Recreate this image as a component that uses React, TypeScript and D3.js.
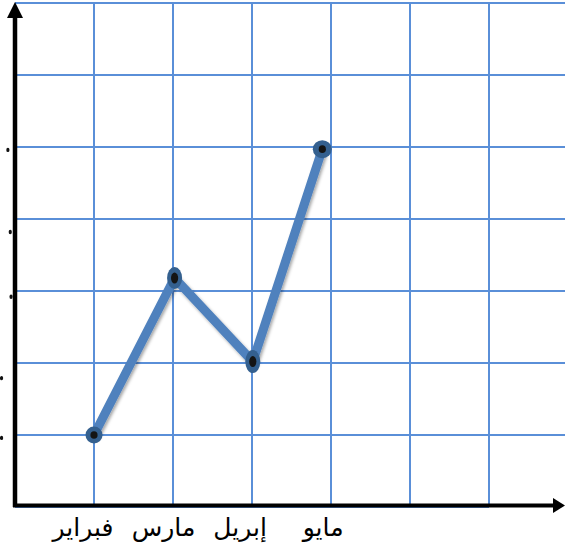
import { useEffect, useRef } from "react";
import * as d3 from "d3";

const months = ["فبراير", "مارس", "إبريل", "مايو"];
const monthPos = [1, 2.02, 3.01, 3.89];
const labelPos = [0.86, 1.88, 2.85, 3.9];
const values = [1, 3.18, 2.02, 4.97];
const gridSteps = [1, 2, 3, 4, 5, 6, 7];
// remnants of clipped tick labels at the far left
const clippedTicks = [4.96, 3.82, 2.92, 1.79, 0.96];
const clippedTickX = [-0.09, -0.06, -0.05, -0.17, -0.17];

type Pt = { label: string; x: number; y: number; lx: number };

export default function App() {
  const ref = useRef<SVGSVGElement | null>(null);

  useEffect(() => {
    const node = ref.current;
    if (!node) return;
    const svg = d3.select(node);
    svg.selectAll("*").remove();

    const width = 565;
    const blue = "#4f81bd";
    const grid = "#5a8fd8";

    const x = d3.scaleLinear().domain([0, 7]).range([15, 568]);
    const y = d3.scaleLinear().domain([0, 7]).range([507, 3]);

    const pts: Pt[] = months.map((label, i) => ({
      label,
      x: monthPos[i],
      y: values[i],
      lx: labelPos[i],
    }));

    const defs = svg.append("defs");
    defs
      .append("filter")
      .attr("id", "shadow")
      .attr("x", "-10%")
      .attr("y", "-10%")
      .attr("width", "130%")
      .attr("height", "130%")
      .append("feDropShadow")
      .attr("dx", 1.5)
      .attr("dy", 2)
      .attr("stdDeviation", 1.5)
      .attr("flood-color", "#000")
      .attr("flood-opacity", 0.35);

    // grid
    const g = svg.append("g");
    g.selectAll("line.h")
      .data(gridSteps)
      .join("line")
      .attr("class", "h")
      .attr("x1", x(0))
      .attr("x2", width)
      .attr("y1", (d) => y(d))
      .attr("y2", (d) => y(d))
      .attr("stroke", grid)
      .attr("stroke-width", 2);
    g.selectAll("line.v")
      .data(gridSteps.slice(0, 6))
      .join("line")
      .attr("class", "v")
      .attr("x1", (d) => x(d))
      .attr("x2", (d) => x(d))
      .attr("y1", y(7))
      .attr("y2", y(0))
      .attr("stroke", grid)
      .attr("stroke-width", 2);
    g.append("line")
      .attr("x1", x(0))
      .attr("x2", x(6))
      .attr("y1", y(0))
      .attr("y2", y(0))
      .attr("stroke", grid)
      .attr("stroke-width", 2);

    // clipped tick remnants
    svg
      .append("g")
      .selectAll("ellipse")
      .data(clippedTicks)
      .join("ellipse")
      .attr("cx", (_d, i) => x(clippedTickX[i]))
      .attr("cy", (d) => y(d))
      .attr("rx", 1.6)
      .attr("ry", 2.2)
      .attr("fill", "#111");

    // axes
    const ax = svg.append("g");
    ax.append("line")
      .attr("x1", x(0))
      .attr("x2", x(0))
      .attr("y1", y(0))
      .attr("y2", 14)
      .attr("stroke", "#000")
      .attr("stroke-width", 4.5);
    ax.append("path")
      .attr("d", `M${x(0)},2 L${x(0) - 8},18 L${x(0) + 8},18 Z`)
      .attr("fill", "#000");
    ax.append("line")
      .attr("x1", x(0) - 2)
      .attr("x2", 555)
      .attr("y1", y(0) - 1.5)
      .attr("y2", y(0) - 1.5)
      .attr("stroke", "#000")
      .attr("stroke-width", 4);
    ax.append("path")
      .attr("d", `M565,${y(0) - 1.5} L553,${y(0) - 9} L553,${y(0) + 6} Z`)
      .attr("fill", "#000");

    // line
    const line = d3
      .line<Pt>()
      .x((d) => x(d.x))
      .y((d) => y(d.y));
    svg
      .append("path")
      .datum(pts)
      .attr("d", line)
      .attr("fill", "none")
      .attr("stroke", blue)
      .attr("stroke-width", 9)
      .attr("stroke-linejoin", "round")
      .attr("filter", "url(#shadow)");

    // markers
    const rx = [8.5, 7.5, 7.5, 9.5];
    const ry = [8.5, 11, 11.5, 9];
    const m = svg.append("g");
    m.selectAll("ellipse.o")
      .data(pts)
      .join("ellipse")
      .attr("class", "o")
      .attr("cx", (d) => x(d.x))
      .attr("cy", (d) => y(d.y))
      .attr("rx", (_d, i) => rx[i])
      .attr("ry", (_d, i) => ry[i])
      .attr("fill", "#34608f");
    m.selectAll("ellipse.i")
      .data(pts)
      .join("ellipse")
      .attr("class", "i")
      .attr("cx", (d) => x(d.x))
      .attr("cy", (d) => y(d.y))
      .attr("rx", 3.6)
      .attr("ry", (_d, i) => (i === 1 || i === 2 ? 5.5 : 3.8))
      .attr("fill", "#141414");

    // labels
    svg
      .append("g")
      .selectAll("text")
      .data(pts)
      .join("text")
      .attr("x", (d) => x(d.lx))
      .attr("y", 536)
      .attr("text-anchor", "middle")
      .attr("font-family", "DejaVu Sans, sans-serif")
      .attr("font-size", 25)
      .attr("fill", "#000")
      .text((d) => d.label);
  }, []);

  return (
    <svg
      ref={ref}
      width={565}
      height={554}
      style={{ position: "absolute", left: 0, top: 0, background: "#fff" }}
    />
  );
}
